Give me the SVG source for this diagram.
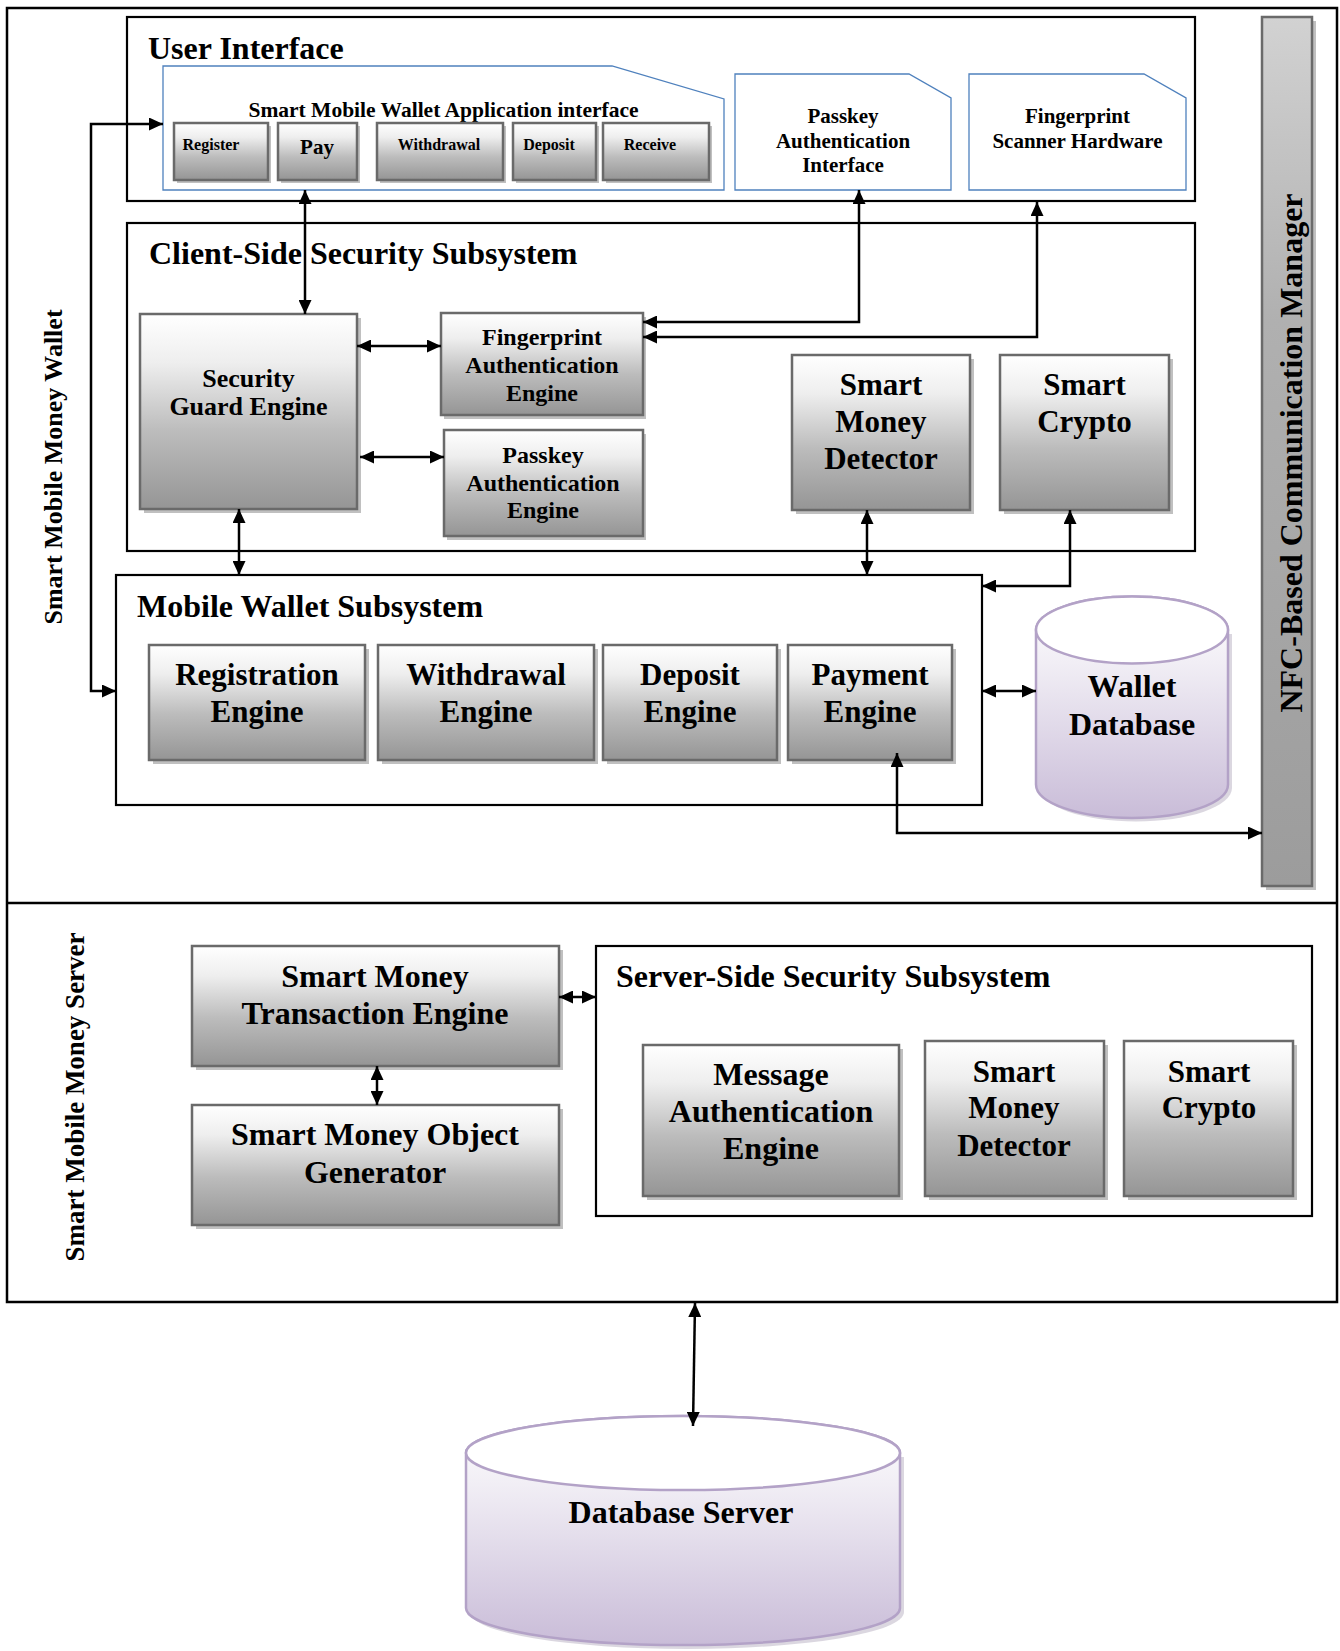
<svg xmlns="http://www.w3.org/2000/svg" width="1340" height="1651" viewBox="0 0 1340 1651">
<defs>
<linearGradient id="gbox" x1="0" y1="0" x2="0" y2="1">
<stop offset="0" stop-color="#ffffff"/>
<stop offset="0.25" stop-color="#eeeeee"/>
<stop offset="0.6" stop-color="#bcbcbc"/>
<stop offset="1" stop-color="#959595"/>
</linearGradient>
<linearGradient id="gnfc" x1="0" y1="0" x2="0" y2="1">
<stop offset="0" stop-color="#d2d2d2"/>
<stop offset="0.35" stop-color="#b0b0b0"/>
<stop offset="1" stop-color="#9c9c9c"/>
</linearGradient>
<linearGradient id="gcyl" x1="0" y1="0" x2="0" y2="1">
<stop offset="0" stop-color="#ffffff"/>
<stop offset="0.3" stop-color="#f1eef5"/>
<stop offset="1" stop-color="#c9bcd8"/>
</linearGradient>
<marker id="ah" viewBox="0 0 14 13" refX="14" refY="6.5" markerWidth="14" markerHeight="13" markerUnits="userSpaceOnUse" orient="auto-start-reverse">
<path d="M0,0 L14,6.5 L0,13 Z" fill="#000"/>
</marker>
</defs>
<style>
text{font-family:"Liberation Serif","Times New Roman",serif;font-weight:bold;fill:#000;}
.c{text-anchor:middle;}
.frame{fill:none;stroke:#000;stroke-width:2.5;}
.sub{fill:#fff;stroke:#000;stroke-width:2.2;}
.panel{fill:#fff;stroke:#4f81bd;stroke-width:1.3;}
.box{fill:url(#gbox);stroke:#6a6a6a;stroke-width:2.5;}
.sh{fill:#c0c0c0;}
.cyl{fill:url(#gcyl);stroke:#b3a2c7;stroke-width:2.5;}
.conn path{fill:none;stroke:#000;stroke-width:2.5;marker-start:url(#ah);marker-end:url(#ah);}
.t32{font-size:32px;}
.t31{font-size:31px;}
.t26{font-size:26px;}
.t24{font-size:24px;}
.t21{font-size:21px;}
.t16{font-size:16px;}
</style>
<rect width="1340" height="1651" fill="#fff"/>

<g id="frames">
<rect class="frame" x="7" y="8" width="1330" height="1294"/>
<line x1="7" y1="903" x2="1337" y2="903" stroke="#000" stroke-width="2.5"/>
<text class="t26 c" transform="translate(62,467) rotate(-90)">Smart Mobile Money Wallet</text>
<text class="t26 c" transform="translate(84,1097) rotate(-90)" style="font-size:27px">Smart Mobile Money Server</text>
</g>

<g id="user-interface">
<rect class="sub" x="127" y="17" width="1068" height="184" stroke-width="2.5"/>
<text class="t32" x="148" y="59">User Interface</text>
</g>

<g id="app-interface">
<polygon class="panel" points="163,66 612,66 724,99 724,190 163,190"/>
<text class="c" x="443.5" y="117" style="font-size:21.5px">Smart Mobile Wallet Application interface</text>
</g>

<g id="btn-register">
<rect class="sh" x="177" y="126" width="94" height="57"/>
<rect class="box" x="174" y="123" width="94" height="57" stroke-width="2"/>
<text class="t16 c" x="211" y="150">Register</text>
</g>
<g id="btn-pay">
<rect class="sh" x="281" y="126" width="79" height="57"/>
<rect class="box" x="278" y="123" width="79" height="57" stroke-width="2"/>
<text class="t21 c" x="317" y="154">Pay</text>
</g>
<g id="btn-withdrawal">
<rect class="sh" x="380" y="126" width="126" height="57"/>
<rect class="box" x="377" y="123" width="126" height="57" stroke-width="2"/>
<text class="t16 c" x="439" y="150">Withdrawal</text>
</g>
<g id="btn-deposit">
<rect class="sh" x="516" y="126" width="83" height="57"/>
<rect class="box" x="513" y="123" width="83" height="57" stroke-width="2"/>
<text class="t16 c" x="549" y="150">Deposit</text>
</g>
<g id="btn-receive">
<rect class="sh" x="606" y="126" width="106" height="57"/>
<rect class="box" x="603" y="123" width="106" height="57" stroke-width="2"/>
<text class="t16 c" x="650" y="150">Receive</text>
</g>

<g id="passkey-interface">
<polygon class="panel" points="735,74 909,74 951,98 951,190 735,190"/>
<text class="t21 c" x="843" y="123">Passkey</text>
<text class="t21 c" x="843" y="148">Authentication</text>
<text class="t21 c" x="843" y="172">Interface</text>
</g>

<g id="fingerprint-hardware">
<polygon class="panel" points="969,74 1144,74 1186,98 1186,190 969,190"/>
<text class="t21 c" x="1077.5" y="123">Fingerprint</text>
<text class="t21 c" x="1077.5" y="148">Scanner Hardware</text>
</g>

<g id="nfc-manager">
<rect class="sh" x="1266" y="21" width="50" height="869"/>
<rect x="1262" y="17" width="50" height="869" fill="url(#gnfc)" stroke="#6a6a6a" stroke-width="2.5"/>
<text class="t32 c" transform="translate(1302,453) rotate(-90)">NFC-Based Communication Manager</text>
</g>

<g id="client-security">
<rect class="sub" x="127" y="223" width="1068" height="328"/>
<text class="t32" x="149" y="264">Client-Side Security Subsystem</text>
</g>

<g id="security-guard">
<rect class="sh" x="144" y="318" width="217" height="195"/>
<rect class="box" x="140" y="314" width="217" height="195"/>
<text class="t26 c" x="248.5" y="387">Security</text>
<text class="t26 c" x="248.5" y="415">Guard Engine</text>
</g>

<g id="fingerprint-engine">
<rect class="sh" x="444" y="317" width="202" height="102"/>
<rect class="box" x="441" y="313" width="202" height="102"/>
<text class="t24 c" x="542" y="345">Fingerprint</text>
<text class="t24 c" x="542" y="373">Authentication</text>
<text class="t24 c" x="542" y="401">Engine</text>
</g>

<g id="passkey-engine">
<rect class="sh" x="447" y="434" width="199" height="106"/>
<rect class="box" x="444" y="430" width="199" height="106"/>
<text class="t24 c" x="543" y="463">Passkey</text>
<text class="t24 c" x="543" y="491">Authentication</text>
<text class="t24 c" x="543" y="518">Engine</text>
</g>

<g id="client-detector">
<rect class="sh" x="796" y="359" width="178" height="155"/>
<rect class="box" x="792" y="355" width="178" height="155"/>
<text class="t31 c" x="881" y="395">Smart</text>
<text class="t31 c" x="881" y="432">Money</text>
<text class="t31 c" x="881" y="469">Detector</text>
</g>

<g id="client-crypto">
<rect class="sh" x="1004" y="359" width="169" height="155"/>
<rect class="box" x="1000" y="355" width="169" height="155"/>
<text class="t31 c" x="1084.5" y="395">Smart</text>
<text class="t31 c" x="1084.5" y="432">Crypto</text>
</g>

<g id="mobile-wallet">
<rect class="sub" x="116" y="575" width="866" height="230"/>
<text class="t32" x="137" y="617">Mobile Wallet Subsystem</text>
</g>

<g id="registration-engine">
<rect class="sh" x="153" y="649" width="216" height="115"/>
<rect class="box" x="149" y="645" width="216" height="115"/>
<text class="t31 c" x="257" y="685">Registration</text>
<text class="t31 c" x="257" y="722">Engine</text>
</g>
<g id="withdrawal-engine">
<rect class="sh" x="382" y="649" width="216" height="115"/>
<rect class="box" x="378" y="645" width="216" height="115"/>
<text class="t31 c" x="486" y="685">Withdrawal</text>
<text class="t31 c" x="486" y="722">Engine</text>
</g>
<g id="deposit-engine">
<rect class="sh" x="607" y="649" width="174" height="115"/>
<rect class="box" x="603" y="645" width="174" height="115"/>
<text class="t31 c" x="690" y="685">Deposit</text>
<text class="t31 c" x="690" y="722">Engine</text>
</g>
<g id="payment-engine">
<rect class="sh" x="792" y="649" width="164" height="115"/>
<rect class="box" x="788" y="645" width="164" height="115"/>
<text class="t31 c" x="870" y="685">Payment</text>
<text class="t31 c" x="870" y="722">Engine</text>
</g>

<g id="wallet-database">
<path d="M1040,634 L1040,788 A96,33.5 0 0,0 1232,788 L1232,634 Z" fill="#b8b0c2" opacity="0.5"/>
<path class="cyl" d="M1036,630 L1036,784.5 A96,33.5 0 0,0 1228,784.5 L1228,630 A96,33.5 0 0,0 1036,630 Z"/>
<ellipse cx="1132" cy="630" rx="96" ry="33.5" fill="#fff" stroke="#b3a2c7" stroke-width="2.5"/>
<text class="t32 c" x="1132" y="697">Wallet</text>
<text class="t32 c" x="1132" y="735">Database</text>
</g>

<g id="transaction-engine">
<rect class="sh" x="196" y="950" width="367" height="120"/>
<rect class="box" x="192" y="946" width="367" height="120"/>
<text class="t32 c" x="375" y="987">Smart Money</text>
<text class="t32 c" x="375" y="1024">Transaction Engine</text>
</g>

<g id="object-generator">
<rect class="sh" x="196" y="1109" width="367" height="120"/>
<rect class="box" x="192" y="1105" width="367" height="120"/>
<text class="t32 c" x="375" y="1145">Smart Money Object</text>
<text class="t32 c" x="375" y="1183">Generator</text>
</g>

<g id="server-security">
<rect class="sub" x="596" y="946" width="716" height="270"/>
<text class="t32" x="616" y="987">Server-Side Security Subsystem</text>
</g>

<g id="message-auth">
<rect class="sh" x="647" y="1049" width="256" height="151"/>
<rect class="box" x="643" y="1045" width="256" height="151"/>
<text class="t32 c" x="771" y="1085">Message</text>
<text class="t32 c" x="771" y="1122">Authentication</text>
<text class="t32 c" x="771" y="1159">Engine</text>
</g>

<g id="server-detector">
<rect class="sh" x="929" y="1045" width="179" height="155"/>
<rect class="box" x="925" y="1041" width="179" height="155"/>
<text class="t31 c" x="1014" y="1082">Smart</text>
<text class="t31 c" x="1014" y="1118">Money</text>
<text class="t31 c" x="1014" y="1156">Detector</text>
</g>

<g id="server-crypto">
<rect class="sh" x="1128" y="1045" width="169" height="155"/>
<rect class="box" x="1124" y="1041" width="169" height="155"/>
<text class="t31 c" x="1209" y="1082">Smart</text>
<text class="t31 c" x="1209" y="1118">Crypto</text>
</g>

<g id="database-server">
<path d="M470,1457 L470,1612 A217,37 0 0,0 904,1612 L904,1457 Z" fill="#b8b0c2" opacity="0.5"/>
<path class="cyl" d="M466,1453 L466,1608 A217,37 0 0,0 900,1608 L900,1453 A217,37 0 0,0 466,1453 Z"/>
<ellipse cx="683" cy="1453" rx="217" ry="37" fill="#fff" stroke="#b3a2c7" stroke-width="2.5"/>
<text class="t32 c" x="681" y="1523">Database Server</text>
</g>

<g id="connectors" class="conn">
<path d="M305,190 V314"/>
<path d="M859,190 V322 H643"/>
<path d="M1037,202 V337 H643"/>
<path d="M357,346 H441"/>
<path d="M360,457 H444"/>
<path d="M239,509 V575"/>
<path d="M867,510 V575"/>
<path d="M1070,510 V586 H982"/>
<path d="M982,691 H1036"/>
<path d="M897,753 V833 H1262"/>
<path d="M163,124 H91 V691 H116"/>
<path d="M377,1066 V1105"/>
<path d="M559,997 H596"/>
<path d="M695,1303 L693,1426"/>
</g>
</svg>
